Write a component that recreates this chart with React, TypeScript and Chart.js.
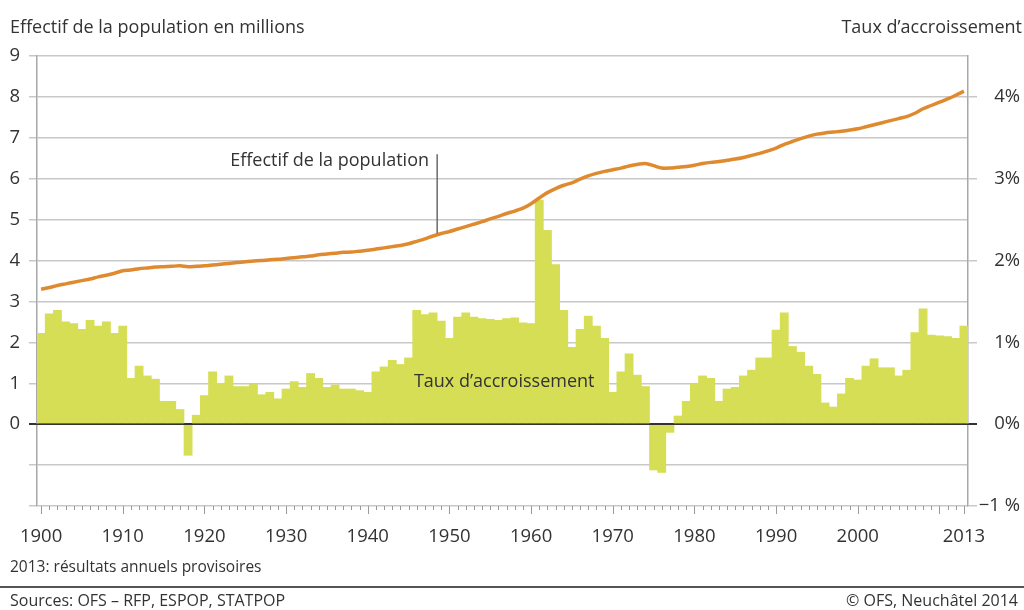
import React, { useEffect, useRef } from 'react';
import { Chart, registerables } from 'chart.js';
Chart.register(...registerables);

const FIRST_YEAR = 1900;
const LAST_YEAR = 2013;
const years: number[] = Array.from({ length: LAST_YEAR - FIRST_YEAR + 1 }, (_, i) => FIRST_YEAR + i);
const labeledYears: number[] = [1900, 1910, 1920, 1930, 1940, 1950, 1960, 1970, 1980, 1990, 2000, 2013];

// Population (millions), 1900..2013
const population: number[] = [
  3.30, 3.34, 3.39, 3.43, 3.47, 3.51, 3.55, 3.60, 3.64, 3.69,
  3.75, 3.77, 3.80, 3.82, 3.84, 3.85, 3.86, 3.87, 3.85, 3.86,
  3.87, 3.89, 3.91, 3.93, 3.95, 3.97, 3.99, 4.00, 4.02, 4.03,
  4.05, 4.07, 4.09, 4.11, 4.14, 4.16, 4.18, 4.20, 4.21, 4.23,
  4.25, 4.28, 4.31, 4.34, 4.37, 4.41, 4.47, 4.53, 4.60, 4.66,
  4.71, 4.77, 4.83, 4.89, 4.95, 5.02, 5.08, 5.15, 5.21, 5.28,
  5.39, 5.53, 5.66, 5.76, 5.84, 5.90, 5.99, 6.07, 6.13, 6.18,
  6.22, 6.26, 6.31, 6.35, 6.37, 6.32, 6.26, 6.26, 6.28, 6.30,
  6.33, 6.37, 6.40, 6.42, 6.45, 6.48, 6.52, 6.57, 6.62, 6.68,
  6.75, 6.84, 6.91, 6.98, 7.04, 7.09, 7.12, 7.14, 7.16, 7.19,
  7.22, 7.27, 7.32, 7.37, 7.42, 7.47, 7.52, 7.60, 7.71, 7.79,
  7.87, 7.95, 8.04, 8.14,
];

// Growth rate (%), 1900..2013
const growthRate: number[] = [
  1.11, 1.35, 1.39, 1.25, 1.23, 1.16, 1.27, 1.20, 1.25, 1.11,
  1.20, 0.56, 0.71, 0.59, 0.55, 0.28, 0.28, 0.18, -0.38, 0.11,
  0.35, 0.64, 0.50, 0.59, 0.46, 0.46, 0.49, 0.36, 0.39, 0.31,
  0.43, 0.52, 0.45, 0.62, 0.56, 0.45, 0.48, 0.43, 0.43, 0.41,
  0.39, 0.64, 0.70, 0.78, 0.73, 0.81, 1.39, 1.34, 1.36, 1.26,
  1.05, 1.31, 1.36, 1.31, 1.29, 1.28, 1.27, 1.29, 1.30, 1.24,
  1.23, 2.74, 2.37, 1.95, 1.39, 0.94, 1.16, 1.32, 1.20, 1.05,
  0.39, 0.64, 0.86, 0.60, 0.46, -0.56, -0.59, -0.10, 0.10, 0.28,
  0.49, 0.59, 0.56, 0.28, 0.43, 0.45, 0.59, 0.66, 0.81, 0.81,
  1.15, 1.36, 0.95, 0.88, 0.71, 0.61, 0.26, 0.21, 0.37, 0.56,
  0.54, 0.71, 0.80, 0.69, 0.69, 0.59, 0.66, 1.12, 1.41, 1.09,
  1.08, 1.07, 1.05, 1.20,
];

const FONT = '"Open Sans", "Noto Sans", sans-serif';
const TEXT = '#333333';
const GRID = '#c8c8c8';
const AXIS = '#a8a8a8';
const ZERO = '#333333';
const BAR = '#d5de55';
const LINE = '#df8a2e';

const decorPlugin = {
  id: 'decor',
  afterDatasetsDraw(chart: any) {
    const { ctx, chartArea } = chart;
    const ys = chart.scales.y;
    const y0 = ys.getPixelForValue(0);
    ctx.save();
    ctx.strokeStyle = ZERO;
    ctx.lineWidth = 1.5;
    ctx.beginPath();
    ctx.moveTo(chartArea.left - 8, y0);
    ctx.lineTo(chartArea.right + 9, y0);
    ctx.stroke();
    ctx.restore();
  },
  afterDraw(chart: any) {
    const { ctx, chartArea, width } = chart;
    const xs = chart.scales.x;
    const ys = chart.scales.y;
    const y2 = chart.scales.y2;
    ctx.save();
    // x tick marks
    ctx.strokeStyle = '#9a9a9a';
    ctx.lineWidth = 1;
    years.forEach((yr, i) => {
      const x = Math.round(xs.getPixelForValue(i)) + 0.5;
      const major = yr % 10 === 0 || yr === LAST_YEAR;
      ctx.beginPath();
      ctx.moveTo(x, chartArea.bottom);
      ctx.lineTo(x, chartArea.bottom + (major ? 8 : 4));
      ctx.stroke();
    });
    // x labels
    ctx.fillStyle = TEXT;
    ctx.font = `18.5px ${FONT}`;
    ctx.textAlign = 'center';
    ctx.textBaseline = 'alphabetic';
    labeledYears.forEach((yr) => {
      const i = years.indexOf(yr);
      ctx.fillText(String(yr), xs.getPixelForValue(i), 542);
    });
    // titles
    ctx.font = `18px ${FONT}`;
    ctx.textAlign = 'left';
    ctx.fillText('Effectif de la population en millions', 10, 33);
    ctx.textAlign = 'right';
    ctx.fillText('Taux d\u2019accroissement', 1022, 33);
    // annotations
    ctx.textAlign = 'right';
    ctx.fillText('Effectif de la population', xs.getPixelForValue(47.5), 166);
    const lx = xs.getPixelForValue(48.5);
    ctx.strokeStyle = '#6a6a6a';
    ctx.lineWidth = 1.5;
    ctx.beginPath();
    ctx.moveTo(lx, ys.getPixelForValue(6.6));
    ctx.lineTo(lx, ys.getPixelForValue(4.66));
    ctx.stroke();
    ctx.textAlign = 'left';
    ctx.fillText('Taux d\u2019accroissement', xs.getPixelForValue(45.65), y2.getPixelForValue(0.45));
    // footer
    ctx.font = `15.5px ${FONT}`;
    ctx.textAlign = 'left';
    ctx.fillText('2013: résultats annuels provisoires', 10, 572);
    ctx.font = `16px ${FONT}`;
    ctx.fillText('Sources: OFS \u2013 RFP, ESPOP, STATPOP', 10, 606);
    ctx.textAlign = 'right';
    ctx.fillText('\u00a9 OFS, Neuchâtel 2014', 1018, 606);
    ctx.strokeStyle = '#555555';
    ctx.lineWidth = 2;
    ctx.beginPath();
    ctx.moveTo(0, 587);
    ctx.lineTo(width, 587);
    ctx.stroke();
    ctx.restore();
  },
};

export default function App() {
  const ref = useRef<HTMLCanvasElement | null>(null);
  useEffect(() => {
    document.body.style.margin = '0';
    const canvas = ref.current!;
    const chart = new Chart(canvas, {
      type: 'bar',
      data: {
        labels: years.map(String),
        datasets: [
          {
            type: 'line',
            label: 'Effectif de la population',
            data: population,
            yAxisID: 'y',
            borderColor: LINE,
            borderWidth: 3.5,
            pointRadius: 0,
            tension: 0.25,
            order: 0,
          } as any,
          {
            type: 'bar',
            label: 'Taux d\u2019accroissement',
            data: growthRate,
            yAxisID: 'y2',
            backgroundColor: BAR,
            borderWidth: 0,
            barPercentage: 1,
            categoryPercentage: 1,
            order: 1,
          },
        ],
      },
      options: {
        responsive: false,
        animation: false,
        devicePixelRatio: 1,
        layout: { padding: { top: 56, left: 0, right: 4, bottom: 0 } },
        plugins: { legend: { display: false }, tooltip: { enabled: false } },
        scales: {
          x: {
            type: 'category',
            offset: true,
            grid: { display: false },
            border: { display: false },
            ticks: { display: false },
            afterFit: (s: any) => { s.height = 104; },
          },
          y: {
            position: 'left',
            min: -2,
            max: 9,
            ticks: {
              stepSize: 1,
              color: TEXT,
              font: { family: FONT, size: 18.5 },
              padding: 9,
              callback: (v: any) => (Number(v) >= 0 ? String(v) : ''),
            },
            grid: {
              color: (c: any) => (c.tick && c.tick.value === 0 ? ZERO : GRID),
              tickColor: (c: any) => (c.tick && c.tick.value === 0 ? ZERO : GRID),
              lineWidth: 1.5,
              tickLength: 8,
            },
            border: { display: true, color: AXIS, width: 1.5 },
            afterFit: (s: any) => { s.width = 37; },
          },
          y2: {
            position: 'right',
            min: -1,
            max: 4.5,
            ticks: {
              stepSize: 1,
              includeBounds: false,
              color: TEXT,
              font: { family: FONT, size: 18.5 },
              crossAlign: 'far',
              callback: (v: any) => (Number(v) < 0 ? '\u22121 %' : `${v}%`),
            },
            grid: {
              drawOnChartArea: false,
              tickColor: (c: any) => (c.tick && c.tick.value === 0 ? ZERO : GRID),
              lineWidth: 1.5,
              tickLength: 9,
            },
            border: { display: true, color: AXIS, width: 1.5 },
            afterFit: (s: any) => { s.width = 52; },
          },
        },
      },
      plugins: [decorPlugin],
    });
    return () => chart.destroy();
  }, []);
  return (
    <div style={{ width: 1024, height: 610, position: 'relative', background: '#fff' }}>
      <canvas ref={ref} width={1024} height={610} style={{ display: 'block' }} />
    </div>
  );
}
